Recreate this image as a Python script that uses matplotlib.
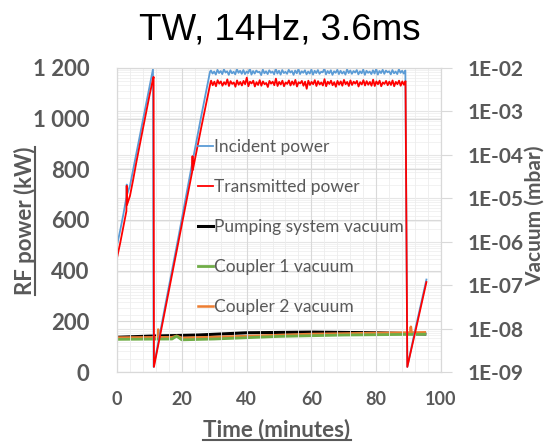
import numpy as np
import matplotlib
matplotlib.use("Agg")
import matplotlib.pyplot as plt
from matplotlib.lines import Line2D

# ---- data ----
# incident power (kW)
inc_ramp_x = [0, 1, 2, 2.9, 3.0, 3.1, 4, 5, 6, 7, 8, 9, 10, 11, 11.1, 11.3,
              15, 19, 23, 26, 28.7]
inc_ramp_y = [500, 560, 625, 690, 740, 700, 735, 800, 865, 930, 995, 1060, 1125, 1190, 1195, 20,
              270, 535, 810, 1010, 1185]
inc_plateau = [1190, 1178, 1186, 1174, 1193, 1180, 1188, 1176, 1195, 1182,
               1187, 1173, 1191, 1179, 1185, 1175, 1196, 1181, 1189, 1177,
               1192, 1176, 1186, 1180, 1198, 1174, 1188, 1178, 1190, 1183,
               1185, 1172, 1194, 1179, 1187, 1176, 1191, 1181, 1186, 1175,
               1197, 1178, 1189, 1174, 1192, 1180, 1185, 1177, 1193, 1182,
               1188, 1173, 1190, 1179, 1196, 1176, 1187, 1181, 1191, 1175,
               1186, 1178, 1194, 1174, 1189, 1180, 1192, 1177, 1185, 1183,
               1198, 1175, 1188, 1179, 1191, 1173, 1187, 1181, 1193, 1176,
               1189, 1178, 1186, 1174, 1195, 1180, 1190, 1177, 1188, 1182,
               1192, 1175, 1187, 1179, 1194, 1173, 1189, 1181, 1186, 1176,
               1191, 1178, 1197, 1174, 1188, 1180, 1193, 1177, 1190, 1183,
               1187, 1175, 1192, 1179, 1186, 1176, 1195, 1181, 1189, 1178,
               1190]
inc_end_x = [89.6, 92, 95.5]
inc_end_y = [20, 165, 365]

# transmitted power (kW)
tr_ramp_x = [0, 1, 2, 2.9, 3.0, 3.1, 4, 5, 6, 7, 8, 9, 10, 11, 11.3, 11.4,
             15, 19, 23.2, 23.3, 23.4, 26, 28.9]
tr_ramp_y = [450, 510, 575, 635, 735, 660, 695, 760, 830, 895, 960, 1025, 1090, 1150, 1165, 20,
             255, 515, 790, 852, 797, 965, 1145]
tr_plateau = [1150, 1132, 1146, 1128, 1152, 1138, 1147, 1130, 1144, 1135,
              1155, 1129, 1148, 1137, 1143, 1126, 1151, 1134, 1145, 1131,
              1149, 1136, 1162, 1128, 1146, 1139, 1150, 1127, 1144, 1133,
              1152, 1130, 1147, 1136, 1141, 1125, 1149, 1138, 1146, 1132,
              1158, 1129, 1145, 1135, 1150, 1128, 1143, 1137, 1151, 1131,
              1147, 1134, 1153, 1127, 1144, 1139, 1149, 1130, 1146, 1118,
              1150, 1133, 1145, 1136, 1152, 1129, 1148, 1135, 1143, 1131,
              1156, 1128, 1146, 1137, 1150, 1132, 1144, 1126, 1149, 1134,
              1147, 1130, 1153, 1136, 1145, 1129, 1151, 1133, 1146, 1138,
              1149, 1127, 1144, 1135, 1152, 1131, 1148, 1134, 1145, 1130,
              1154, 1129, 1147, 1136, 1150, 1128, 1143, 1137, 1149, 1132,
              1146, 1133, 1151, 1128, 1145, 1136, 1150, 1130, 1147, 1134,
              1148]
tr_end_x = [89.6, 92, 95.5]
tr_end_y = [20, 155, 355]

plateau_x = np.linspace(29, 89, 121)

# vacuum (mbar)
pump_x = [0, 10, 25, 40, 60, 80, 95]
pump_v = [6.3e-9, 6.7e-9, 7.1e-9, 8.0e-9, 8.3e-9, 8.0e-9, 7.5e-9]
c1_x = [0, 17, 18.4, 20, 30, 50, 70, 95]
c1_v = [5.65e-9, 5.75e-9, 6.7e-9, 5.5e-9, 5.75e-9, 6.6e-9, 7.1e-9, 7.4e-9]
c2_x = [0, 12.5, 12.7, 12.9, 17, 18.4, 20, 40, 60, 80, 90.5, 90.7, 90.9, 95]
c2_v = [6.2e-9, 6.3e-9, 9.5e-9, 6.3e-9, 6.3e-9, 6.8e-9, 6.1e-9, 6.7e-9, 7.5e-9, 7.9e-9,
        8.1e-9, 1.1e-8, 8.1e-9, 8.2e-9]

left_ticks = [0, 200, 400, 600, 800, 1000, 1200]
left_labels = ["0", "200", "400", "600", "800", "1 000", "1 200"]
right_ticks = [1e-9, 1e-8, 1e-7, 1e-6, 1e-5, 1e-4, 1e-3, 1e-2]
right_labels = ["1E-09", "1E-08", "1E-07", "1E-06", "1E-05", "1E-04", "1E-03", "1E-02"]
x_ticks = [0, 20, 40, 60, 80, 100]

# ---- build series ----
inc_x = list(inc_ramp_x) + list(plateau_x) + inc_end_x
inc_y = inc_ramp_y + inc_plateau + inc_end_y
tr_x = list(tr_ramp_x) + list(plateau_x + 0.05) + tr_end_x
tr_y = tr_ramp_y + tr_plateau + tr_end_y

grey = "#595959"
cfont = "Lato"

fig = plt.figure(figsize=(5.45, 4.44), dpi=100)
ax1 = fig.add_axes([117 / 545, 1 - 372 / 444, 324 / 545, 304 / 444])
ax2 = ax1.twinx()

l3, = ax2.plot(pump_x, pump_v, color="#000000", lw=2.2)
l5, = ax2.plot(c2_x, c2_v, color="#ED7D31", lw=1.8)
l4, = ax2.plot(c1_x, c1_v, color="#70AD47", lw=2.0)
ax2.set_yscale("log")
ax2.set_ylim(1e-9, 1e-2)
ax2.set_yticks(right_ticks)
ax2.set_yticklabels(right_labels)
ax2.yaxis.set_minor_formatter(plt.NullFormatter())
ax2.tick_params(axis="y", which="major", length=8, color="#D9D9D9", pad=11,
                labelsize=15, labelcolor=grey)
ax2.tick_params(axis="y", which="minor", length=0)
for lab in ax2.get_yticklabels():
    lab.set_fontweight("bold")
    lab.set_fontfamily(cfont)
ax2.grid(True, which="major", axis="y", color="#E6E6E6", lw=0.8)
ax2.grid(True, which="minor", axis="y", color="#F0F0F0", lw=0.6)

ax1.set_zorder(ax2.get_zorder() + 1)
ax1.patch.set_visible(False)
l1, = ax1.plot(inc_x, inc_y, color="#5B9BD5", lw=1.3)
l2, = ax1.plot(tr_x, tr_y, color="#FF0000", lw=1.3)
ax1.set_xlim(0, 100)
ax1.set_ylim(0, 1200)
ax1.set_xticks(x_ticks)
ax1.set_xticks(np.arange(0, 101, 4), minor=True)
ax1.set_yticks(left_ticks)
ax1.set_yticklabels(left_labels)
ax1.tick_params(axis="both", which="both", length=0)
ax1.tick_params(axis="y", pad=20, labelsize=16, labelcolor=grey)
ax1.tick_params(axis="x", pad=14, labelsize=13, labelcolor=grey)
for lab in ax1.get_yticklabels() + ax1.get_xticklabels():
    lab.set_fontweight("bold")
    lab.set_fontfamily(cfont)
ax1.grid(True, which="major", color="#D9D9D9", lw=0.8)
ax1.grid(True, which="minor", axis="x", color="#EDEDED", lw=0.6)
ax1.set_axisbelow(True)

for ax in (ax1, ax2):
    for s in ax.spines.values():
        s.set_color("#D9D9D9")
        s.set_linewidth(0.8)

leg = ax1.legend([l1, l2, l3, l4, l5],
                 ["Incident power", "Transmitted power", "Pumping system vacuum",
                  "Coupler 1 vacuum", "Coupler 2 vacuum"],
                 loc="upper left", bbox_to_anchor=(0.25, 0.765), frameon=False,
                 borderpad=0, borderaxespad=0, handlelength=0.85, handletextpad=0.1,
                 labelspacing=1.38, prop={"family": cfont, "size": 12.5})
for t in leg.get_texts():
    t.set_color(grey)
leg.set_zorder(5)

fig.text(280 / 545, 1 - 30 / 444, "TW, 14Hz, 3.6ms", ha="center", va="center",
         fontsize=26.5, family="Liberation Sans", color="#000000")

t_rf = fig.text(25 / 545, 1 - 221 / 444, "RF power (kW)", rotation=90, ha="center",
                va="center", fontsize=16, fontweight="bold", family=cfont, color=grey)
t_time = fig.text(277 / 545, 1 - 430 / 444, "Time (minutes)", ha="center", va="center",
                  fontsize=16, fontweight="bold", family=cfont, color=grey)
fig.text(535 / 545, 1 - 216 / 444, "Vacuum (mbar)", rotation=90, ha="center",
         va="center", fontsize=15, fontweight="bold", family=cfont, color=grey)

# underline the two labels
fig.canvas.draw()
W, H = fig.get_size_inches() * fig.dpi
bb = t_time.get_window_extent()
fig.add_artist(Line2D([bb.x0 / W, bb.x1 / W], [(bb.y0 + 1) / H] * 2,
                      transform=fig.transFigure, color=grey, lw=1.5))
bb = t_rf.get_window_extent()
fig.add_artist(Line2D([(bb.x1 - 1) / W] * 2, [bb.y0 / H, bb.y1 / H],
                      transform=fig.transFigure, color=grey, lw=1.5))

fig.savefig("out.png", dpi=100)
